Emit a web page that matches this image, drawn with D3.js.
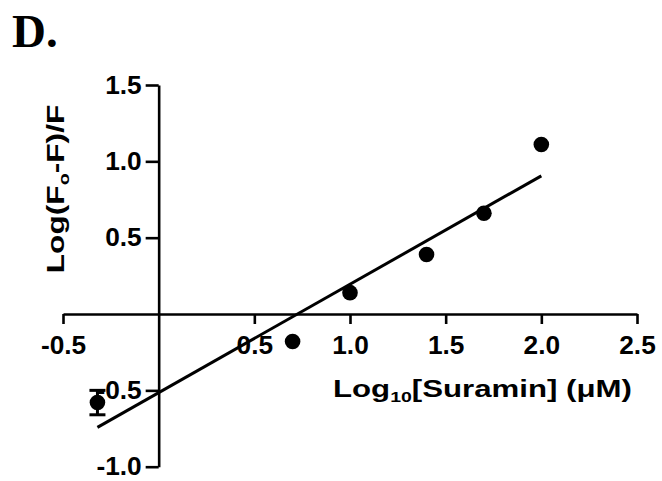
<!DOCTYPE html>
<html>
<head>
<meta charset="utf-8">
<script src="https://cdn.jsdelivr.net/npm/d3@7"></script>
<style>
  html, body { margin: 0; padding: 0; background: #fff; }
  svg { display: block; }
  text { font-family: "Liberation Sans", Arial, sans-serif; font-weight: bold; fill: #000; }
</style>
</head>
<body>
<svg id="chart" width="662" height="481"></svg>
<script>
// Stern-Volmer style double-log plot: log10 of suramin concentration vs log((F0-F)/F)
const logConc = [-0.32, 0.70, 1.00, 1.40, 1.70, 2.00];
const logQuench = [-0.58, -0.18, 0.14, 0.39, 0.66, 1.11];
const quenchErr = [0.08, 0, 0, 0, 0, 0];

// linear fit through the points
const fitSlope = 0.71;
const fitIntercept = -0.515;

const xTicks = [-0.5, 0.5, 1.0, 1.5, 2.0, 2.5];
const yTicks = [-1.0, -0.5, 0.5, 1.0, 1.5];

const svg = d3.select("#chart");

const x = d3.scaleLinear().domain([-0.5, 2.5]).range([63, 637]);
const y = d3.scaleLinear().domain([-1.0, 1.5]).range([466.7, 85]);

// plain hyphen for negative numbers
const fmt = v => d3.format(".1f")(v).replace("\u2212", "-");
const tickFont = 25, tickStretch = 1.05;

// panel letter
svg.append("text")
  .attr("x", 12).attr("y", 47)
  .style("font-family", "'Liberation Serif', 'Times New Roman', serif")
  .style("font-size", "47px")
  .text("D.");

// x axis drawn through y = 0
const xAxis = svg.append("g")
  .attr("transform", `translate(0,${y(0)})`)
  .call(d3.axisBottom(x).tickValues(xTicks).tickFormat(fmt).tickSize(10).tickSizeOuter(0).tickPadding(12));

// y axis drawn through x = 0
const yAxis = svg.append("g")
  .attr("transform", `translate(${x(0)},0)`)
  .call(d3.axisLeft(y).tickValues(yTicks).tickFormat(fmt).tickSize(13).tickSizeOuter(0).tickPadding(4));

[xAxis, yAxis].forEach(g => {
  g.selectAll("path.domain").attr("stroke", "#000").attr("stroke-width", 2.6);
  g.selectAll(".tick line").attr("stroke", "#000").attr("stroke-width", 2.6);
  g.selectAll(".tick text")
    .attr("fill", "#000")
    .style("font-size", tickFont + "px")
    .style("font-family", "'Liberation Sans', Arial, sans-serif")
    .style("font-weight", "bold");
});
xAxis.selectAll(".tick text").attr("transform", `scale(${tickStretch},1)`);
yAxis.selectAll(".tick text")
  .attr("x", -17 / tickStretch)
  .attr("transform", `scale(${tickStretch},1)`);

// fitted line over the data range
const xMin = d3.min(logConc), xMax = d3.max(logConc);
svg.append("line")
  .attr("x1", x(xMin)).attr("y1", y(fitIntercept + fitSlope * xMin))
  .attr("x2", x(xMax)).attr("y2", y(fitIntercept + fitSlope * xMax))
  .attr("stroke", "#000").attr("stroke-width", 3);

const pts = logConc.map((v, i) => ({ x: v, y: logQuench[i], e: quenchErr[i] }));

// error bars
const eb = svg.append("g").attr("stroke", "#000").attr("stroke-width", 3);
pts.filter(d => d.e > 0).forEach(d => {
  eb.append("line").attr("x1", x(d.x)).attr("x2", x(d.x)).attr("y1", y(d.y - d.e)).attr("y2", y(d.y + d.e));
  [d.y - d.e, d.y + d.e].forEach(v => {
    eb.append("line").attr("x1", x(d.x) - 8).attr("x2", x(d.x) + 8).attr("y1", y(v)).attr("y2", y(v));
  });
});

// data points
svg.append("g").selectAll("circle").data(pts).join("circle")
  .attr("cx", d => x(d.x)).attr("cy", d => y(d.y)).attr("r", 7.8).attr("fill", "#000");

// x axis title
const xt = svg.append("text")
  .attr("transform", "translate(333,397) scale(1.3,1)")
  .style("font-size", "24px");
xt.append("tspan").text("Log");
xt.append("tspan").attr("dy", 5).style("font-size", "15px").text("10");
xt.append("tspan").attr("dy", -5).text("[Suramin] (\u03BCM)");

// y axis title
const yt = svg.append("text")
  .attr("transform", "translate(64,189) rotate(-90) scale(1.32,1)")
  .attr("text-anchor", "middle")
  .style("font-size", "24px");
yt.append("tspan").text("Log(F");
yt.append("tspan").attr("dy", 5).style("font-size", "15px").text("o");
yt.append("tspan").attr("dy", -5).text("-F)/F");
</script>
</body>
</html>
